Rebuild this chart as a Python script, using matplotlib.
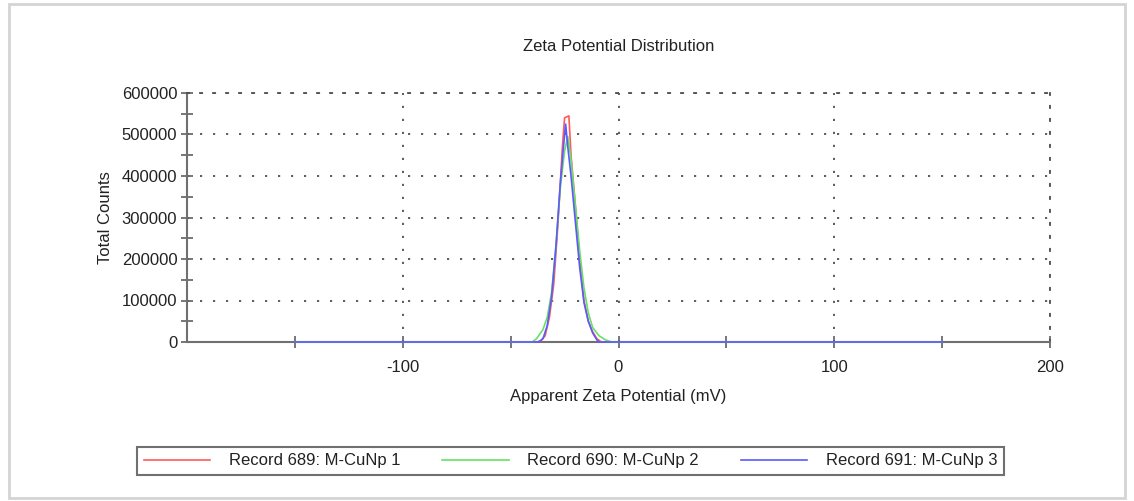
import matplotlib.pyplot as plt
from matplotlib.patches import Rectangle
from matplotlib.ticker import MultipleLocator, FixedLocator

plt.rcParams['font.family'] = ['Liberation Sans', 'DejaVu Sans']
plt.rcParams['axes.unicode_minus'] = False

# zeta potential (mV) vs total counts
x_689 = [-150, -38, -36, -34, -32, -30, -28, -26, -25, -23, -22, -20, -18, -16, -14, -12, -10, -8, 150]
y_689 = [0, 0, 3000, 15000, 60000, 140000, 290000, 470000, 540000, 545000, 450000, 330000, 200000, 100000, 50000, 25000, 8000, 0, 0]

x_690 = [-150, -40, -38, -35, -33, -31, -29, -27, -25, -23.5, -22, -20, -18, -16, -14, -12, -9, -6, -3, 150]
y_690 = [0, 0, 8000, 30000, 60000, 120000, 230000, 370000, 460000, 495000, 440000, 330000, 220000, 130000, 70000, 35000, 15000, 5000, 0, 0]

x_691 = [-150, -37, -35, -33, -31, -29, -27, -25.5, -24.5, -23.5, -22, -20, -18, -16, -14, -12, -10, -9, 150]
y_691 = [0, 0, 8000, 40000, 110000, 230000, 380000, 470000, 525000, 470000, 400000, 290000, 180000, 95000, 50000, 22000, 5000, 0, 0]

labels = ['Record 689: M-CuNp 1', 'Record 690: M-CuNp 2', 'Record 691: M-CuNp 3']
colors = ['#ff5a5a', '#66e066', '#5a5aff']

fig = plt.figure(figsize=(11.34, 5.01), dpi=100)

# panel frame
fig.patches.append(Rectangle((9 / 1134, 3 / 501), 1116 / 1134, 494 / 501, transform=fig.transFigure,
                             fill=False, edgecolor='#d4d4d4', linewidth=2))

ax = fig.add_axes([187 / 1134, 1 - 342 / 501, (1050 - 187) / 1134, (342 - 93) / 501])

for xs, ys, c, lab in zip([x_689, x_690, x_691], [y_689, y_690, y_691], colors, labels):
    ax.plot(xs, ys, color=c, lw=1.2, label=lab, zorder=3, clip_on=False)

ax.set_xlim(-200, 200)
ax.set_ylim(0, 600000)
ax.xaxis.set_major_locator(FixedLocator([-100, 0, 100, 200]))
ax.xaxis.set_minor_locator(FixedLocator([-150, -50, 50, 150]))
ax.yaxis.set_major_locator(MultipleLocator(100000))
ax.yaxis.set_minor_locator(MultipleLocator(50000))
ax.ticklabel_format(style='plain', axis='y')

dot = (0, (1.2, 6))
ax.grid(True, which='major', color='#505050', linestyle=dot, linewidth=1.3)
for s in ['top', 'right']:
    ax.spines[s].set_linestyle(dot)
    ax.spines[s].set_color('#505050')
    ax.spines[s].set_linewidth(1.3)
for s in ['left', 'bottom']:
    ax.spines[s].set_color('#707070')
    ax.spines[s].set_linewidth(1.5)

ax.tick_params(which='both', direction='inout', color='#606060', width=1.2, labelsize=12, labelcolor='#222222')
ax.tick_params(which='major', length=8)
ax.tick_params(which='minor', length=8)
ax.tick_params(axis='x', pad=9)
ax.tick_params(axis='y', pad=3)
ax.tick_params(top=False, right=False, which='both')

ax.set_title('Zeta Potential Distribution', fontsize=12, color='#222222', pad=30)
ax.set_xlabel('Apparent Zeta Potential (mV)', fontsize=12, color='#222222', labelpad=10)
ax.set_ylabel('Total Counts', fontsize=12, color='#222222', labelpad=6)

leg = fig.legend(loc='lower left', bbox_to_anchor=(137 / 1134, 1 - 475 / 501, (1004 - 137) / 1134, 26 / 501),
                 mode='expand', ncol=3, borderaxespad=0, fontsize=12, handlelength=4.0,
                 handletextpad=1.1, fancybox=False, framealpha=1, edgecolor='#707070')
leg.get_frame().set_linewidth(1.5)
for t in leg.get_texts():
    t.set_color('#222222')

fig.savefig('out.png', dpi=100)
